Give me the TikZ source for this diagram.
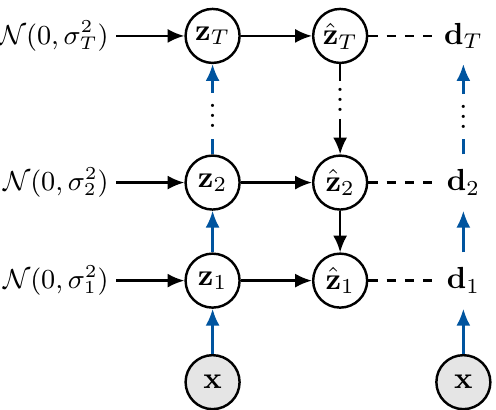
\documentclass[tikz,border=0pt]{standalone}
\usepackage{amsmath}
\usetikzlibrary{arrows.meta}
\definecolor{encblue}{RGB}{0,84,159}
\newcommand{\smalldots}{\vbox{\baselineskip3.3pt\lineskiplimit0pt\hbox{.}\hbox{.}\hbox{.}}}
\begin{document}
\begin{tikzpicture}[thick,
latent_style/.style={circle,draw=black,minimum size=17.7pt,inner sep=0pt},
obs_style/.style={latent_style,fill=black!10},
data_style/.style={circle,minimum size=17.7pt,inner sep=0pt},
prior_style/.style={anchor=east,inner sep=2pt,font=\small},
dots_style/.style={inner sep=0pt,minimum width=4pt},
edge_style/.style={draw=black,-{Latex[length=5.5pt,width=4.6pt]}},
enc_style/.style={draw=encblue,-{Latex[length=5.5pt,width=4.6pt]}},
link_style/.style={draw=black,dashed}]
\useasboundingbox (0,0) rectangle (5.716,4.724);
% nodes
\node[prior_style] (n1) at (1.337,1.49) {$\mathcal{N}(0,\sigma_1^2)$};
\node[prior_style] (n2) at (1.337,2.62) {$\mathcal{N}(0,\sigma_2^2)$};
\node[prior_style] (nT) at (1.337,4.31) {$\mathcal{N}(0,\sigma_T^2)$};
\node[latent_style] (z1) at (2.45,1.49) {$\mathbf{z}_1$};
\node[latent_style] (z2) at (2.45,2.62) {$\mathbf{z}_2$};
\node[latent_style] (zT) at (2.45,4.31) {$\mathbf{z}_T$};
\node[latent_style] (h1) at (3.92,1.49) {$\hat{\mathbf{z}}_1$};
\node[latent_style] (h2) at (3.92,2.62) {$\hat{\mathbf{z}}_2$};
\node[latent_style] (hT) at (3.92,4.31) {$\hat{\mathbf{z}}_T$};
\node[data_style] (d1) at (5.34,1.49) {$\mathbf{d}_1$};
\node[data_style] (d2) at (5.34,2.62) {$\mathbf{d}_2$};
\node[data_style] (dT) at (5.34,4.31) {$\mathbf{d}_T$};
\node[obs_style] (x1) at (2.45,0.32) {$\mathbf{x}$};
\node[obs_style] (x2) at (5.34,0.32) {$\mathbf{x}$};
\node[dots_style,minimum height=14.4pt] (zdots) at (2.45,3.39) {\smalldots};
\node[dots_style,minimum height=11.5pt] (hdots) at (3.92,3.57) {\smalldots};
\node[dots_style,minimum height=14pt] (ddots) at (5.34,3.38) {\smalldots};
% edges
\draw[edge_style] (n1) -- (z1);
\draw[edge_style] (n2) -- (z2);
\draw[edge_style] (nT) -- (zT);
\draw[edge_style] (z1) -- (h1);
\draw[edge_style] (z2) -- (h2);
\draw[edge_style] (zT) -- (hT);
\draw[edge_style] (h2) -- (h1);
\draw[draw=black] (hT) -- (hdots);
\draw[edge_style] (hdots) -- (h2);
\draw[link_style] (h1) -- (d1);
\draw[link_style] (h2) -- (d2);
\draw[link_style] (hT) -- (dT);
\draw[enc_style] (x1) -- (z1);
\draw[enc_style] (z1) -- (z2);
\draw[draw=encblue] (z2) -- (zdots);
\draw[enc_style] (zdots) -- (zT);
\draw[enc_style] (x2) -- (d1);
\draw[enc_style] (d1) -- (d2);
\draw[draw=encblue] (d2) -- (ddots);
\draw[enc_style] (ddots) -- (dT);
\end{tikzpicture}
\end{document}
